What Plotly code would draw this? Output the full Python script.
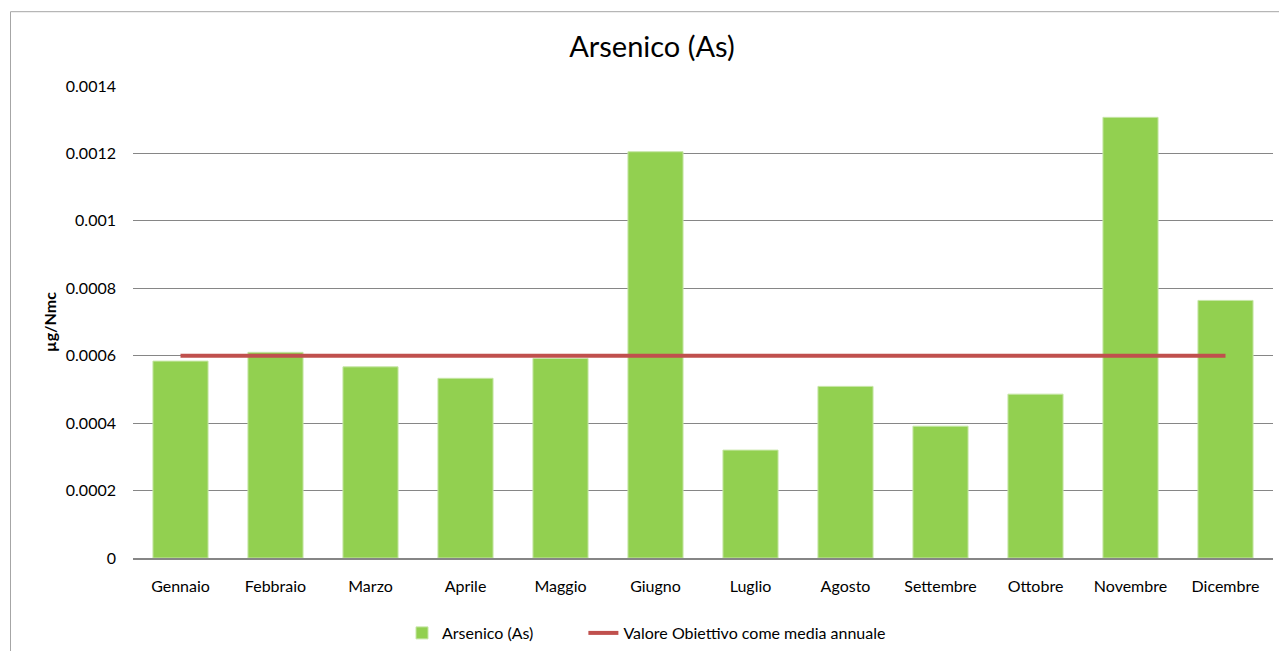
import plotly.graph_objects as go

months = ["Gennaio", "Febbraio", "Marzo", "Aprile", "Maggio", "Giugno",
          "Luglio", "Agosto", "Settembre", "Ottobre", "Novembre", "Dicembre"]
arsenico = [0.000584, 0.000610, 0.000567, 0.000533, 0.000592, 0.001205,
            0.000320, 0.000509, 0.000391, 0.000486, 0.001307, 0.000764]
valore_obiettivo = [0.0006] * 12
y_ticks = [0, 0.0002, 0.0004, 0.0006, 0.0008, 0.001, 0.0012, 0.0014]
y_ticklabels = ["0", "0.0002", "0.0004", "0.0006", "0.0008", "0.001", "0.0012", "0.0014"]

FONT = "Lato, 'Open Sans', sans-serif"

fig = go.Figure()
fig.add_trace(go.Bar(x=months, y=arsenico, name="Arsenico (As)" + "\u00a0" * 11,
                     marker=dict(color="#92d050", line=dict(color="#c6e6a6", width=1))))
fig.add_trace(go.Scatter(x=months, y=valore_obiettivo, mode="lines",
                         name="Valore Obiettivo come media annuale",
                         line=dict(color="#c0504d", width=4)))

fig.update_layout(
    width=1279, height=651,
    margin=dict(l=133, r=6, t=86, b=93),
    paper_bgcolor="white", plot_bgcolor="white",
    font=dict(family=FONT, size=16, color="#000000"),
    title=dict(text="Arsenico (As)", x=652 / 1279, xref="container", xanchor="center",
               y=1 - 47 / 651, yanchor="middle", yref="container",
               font=dict(size=29, family=FONT, color="#000000")),
    bargap=0.42,
    showlegend=True,
    legend=dict(orientation="h", xref="container", yref="container",
                x=402 / 1279, xanchor="left", y=(651 - 633) / 651, yanchor="middle",
                font=dict(size=16, family=FONT), itemwidth=30,
                traceorder="normal"),
    xaxis=dict(showgrid=False, showline=True, linecolor="#868686", linewidth=2,
               ticks="", tickfont=dict(size=16), ticklabelstandoff=13),
    yaxis=dict(range=[0, 0.0014], tickvals=y_ticks, ticktext=y_ticklabels,
               showgrid=True, gridcolor="#868686", gridwidth=1,
               zeroline=False, showline=False, ticks="", ticklabelstandoff=16,
               tickfont=dict(size=16),
               title=dict(text="<b>µg/Nmc</b>", font=dict(size=16, family=FONT), standoff=5)),
    shapes=[dict(type="rect", xref="paper", yref="paper",
                 x0=(10.5 - 133) / 1140, x1=1.2,
                 y0=-0.4, y1=(558.3 - 12) / 472,
                 line=dict(color="#a6a6a6", width=1), layer="below")],
)

fig.write_html("out.html", config={"displayModeBar": False},
               post_script="document.body.style.margin='0';document.body.style.overflow='hidden';")
